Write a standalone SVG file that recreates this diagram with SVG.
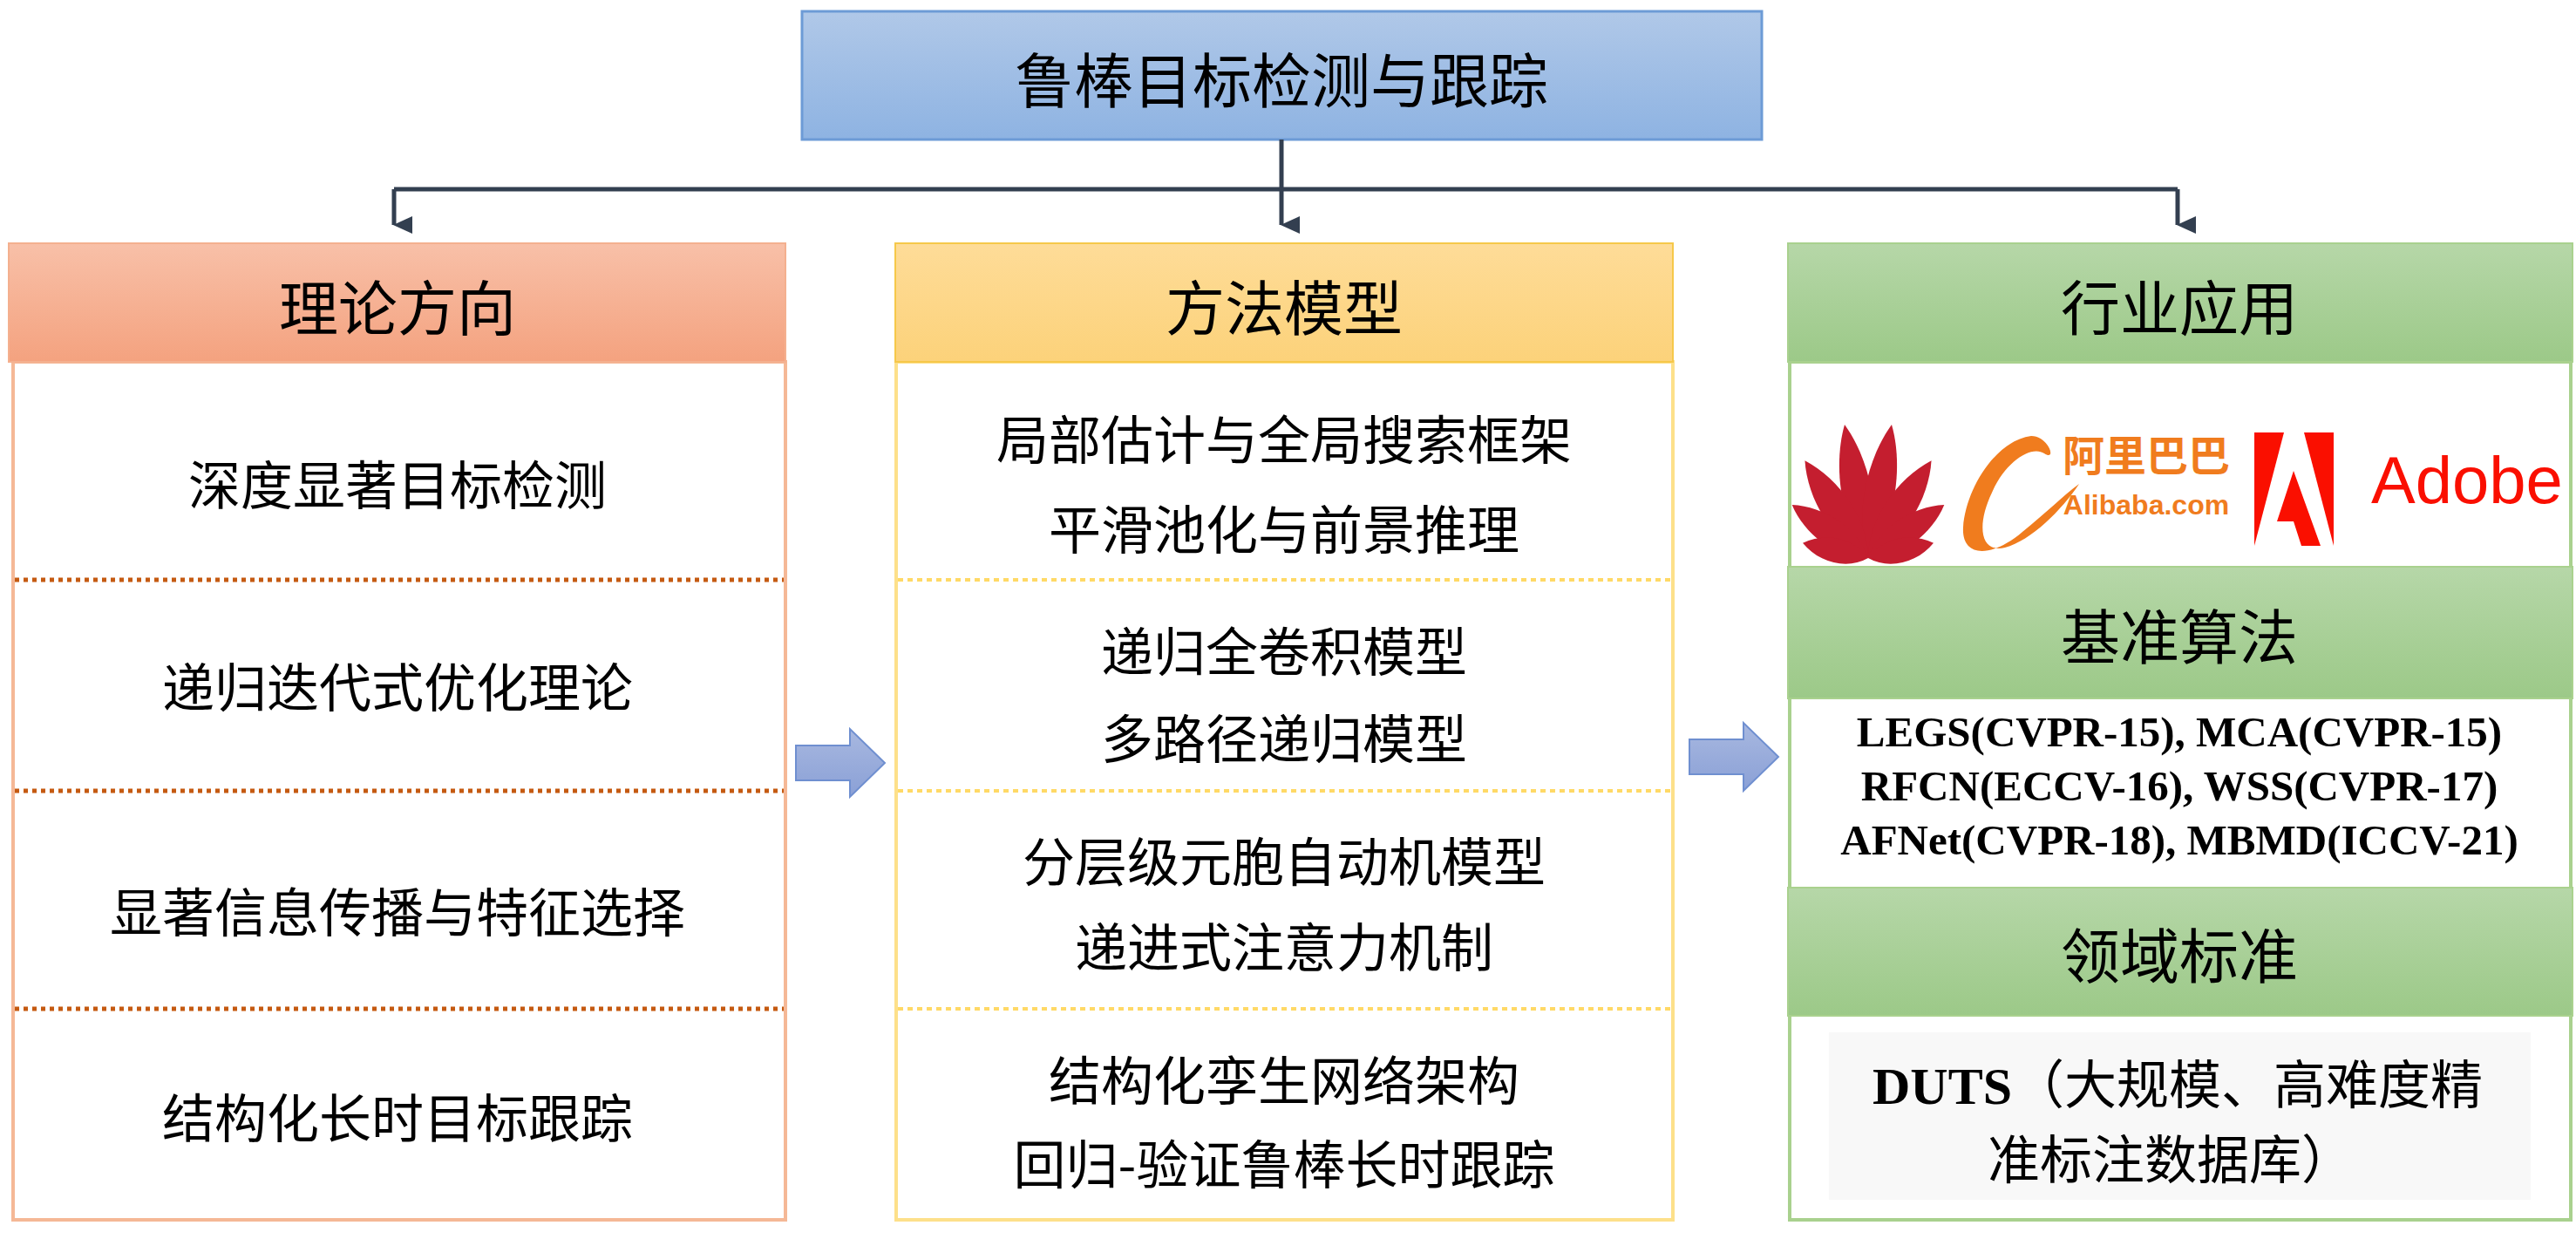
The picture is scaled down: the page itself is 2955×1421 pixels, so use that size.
<svg xmlns="http://www.w3.org/2000/svg" width="2955" height="1421" viewBox="0 0 2955 1421">
<defs>
<linearGradient id="gBlue" x1="0" y1="0" x2="0" y2="1"><stop offset="0" stop-color="#b0c8e8"/><stop offset="1" stop-color="#8eb3e2"/></linearGradient>
<linearGradient id="gRed" x1="0" y1="0" x2="0" y2="1"><stop offset="0" stop-color="#f8c0a8"/><stop offset="1" stop-color="#f4a27f"/></linearGradient>
<linearGradient id="gYel" x1="0" y1="0" x2="0" y2="1"><stop offset="0" stop-color="#fedc98"/><stop offset="1" stop-color="#fcd27a"/></linearGradient>
<linearGradient id="gGrn" x1="0" y1="0" x2="0" y2="1"><stop offset="0" stop-color="#b6d7a8"/><stop offset="1" stop-color="#9cc988"/></linearGradient>
<linearGradient id="gArr" x1="0" y1="0" x2="0" y2="1"><stop offset="0" stop-color="#a8b8e0"/><stop offset="1" stop-color="#8aa0d6"/></linearGradient>
<marker id="ah" markerWidth="20" markerHeight="22" refX="10" refY="21" orient="auto" markerUnits="userSpaceOnUse" viewBox="0 0 20 22"><path d="M0,0 L20,0 L10,22 Z" fill="#333f50"/></marker>
<path id="petal" d="M0,0 C-24,-40 -22,-105 0,-148 C22,-105 24,-40 0,0 Z"/>
</defs>
<style>
.cjk{font-family:"Noto Sans CJK SC","Liberation Sans",sans-serif;fill:#000;text-anchor:middle;dominant-baseline:central}
.hd{font-size:68px}
.it{font-size:60px}
.bs{font-family:"Liberation Serif","Noto Sans CJK SC",serif;font-weight:bold;font-size:49px;text-anchor:middle;dominant-baseline:central}
.conn{fill:none;stroke:#333f50;stroke-width:5}
</style>
<rect width="2955" height="1421" fill="#fff"/>
<g id="title">
<rect x="920" y="13" width="1101" height="147" fill="url(#gBlue)" stroke="#6d9bd6" stroke-width="3"/>
<text class="cjk hd" x="1470" y="88">鲁棒目标检测与跟踪</text>
</g>
<g id="connectors">
<path class="conn" d="M1470,160 V217"/>
<path class="conn" d="M452,217 H2498"/>
<path class="conn" d="M452,217 V258" marker-end="url(#ah)"/>
<path class="conn" d="M1470,217 V258" marker-end="url(#ah)"/>
<path class="conn" d="M2498,217 V258" marker-end="url(#ah)"/>
<path d="M913,855 H975 V836 L1015,875 L975,914 V895 H913 Z" fill="url(#gArr)" stroke="#6f8fd0" stroke-width="2"/>
<path d="M1938,848 H2000 V829 L2040,868 L2000,907 V888 H1938 Z" fill="url(#gArr)" stroke="#6f8fd0" stroke-width="2"/>
</g>
<g id="theory">
<rect x="15" y="415" width="886" height="984" fill="#fff" stroke="#f5b896" stroke-width="4"/>
<rect x="10" y="279" width="891" height="136" fill="url(#gRed)" stroke="#f4b08f" stroke-width="2"/>
<text class="cjk hd" x="456" y="349">理论方向</text>
<g stroke="#c55a11" stroke-width="5" stroke-dasharray="5,5">
<line x1="17" y1="665" x2="899" y2="665"/><line x1="17" y1="907" x2="899" y2="907"/><line x1="17" y1="1157" x2="899" y2="1157"/>
</g>
<text class="cjk it" x="456" y="552">深度显著目标检测</text>
<text class="cjk it" x="456" y="784">递归迭代式优化理论</text>
<text class="cjk it" x="456" y="1042">显著信息传播与特征选择</text>
<text class="cjk it" x="456" y="1278">结构化长时目标跟踪</text>
</g>
<g id="methods">
<rect x="1028" y="415" width="891" height="984" fill="#fff" stroke="#fde08a" stroke-width="4"/>
<rect x="1027" y="279" width="892" height="136" fill="url(#gYel)" stroke="#f6c84a" stroke-width="2"/>
<text class="cjk hd" x="1473" y="349">方法模型</text>
<g stroke="#ffd966" stroke-width="4" stroke-dasharray="6,5" fill="none">
<line x1="1030" y1="665" x2="1917" y2="665"/><line x1="1030" y1="907" x2="1917" y2="907"/><line x1="1030" y1="1157" x2="1917" y2="1157"/>
</g>
<text class="cjk it" x="1473" y="500">局部估计与全局搜索框架</text>
<text class="cjk it" x="1473" y="603">平滑池化与前景推理</text>
<text class="cjk it" x="1473" y="743">递归全卷积模型</text>
<text class="cjk it" x="1473" y="843">多路径递归模型</text>
<text class="cjk it" x="1473" y="984">分层级元胞自动机模型</text>
<text class="cjk it" x="1473" y="1082">递进式注意力机制</text>
<text class="cjk it" x="1473" y="1235">结构化孪生网络架构</text>
<text class="cjk it" x="1473" y="1331">回归-验证鲁棒长时跟踪</text>
</g>
<g id="industry">
<rect x="2053" y="415" width="896" height="984" fill="#fff" stroke="#a9d18e" stroke-width="4"/>
<rect x="2051" y="279" width="900" height="136" fill="url(#gGrn)" stroke="#a9d18e" stroke-width="2"/>
<text class="cjk hd" x="2500" y="349">行业应用</text>
<g id="huawei" fill="#c41e2f">
<use href="#petal" transform="translate(2143,640) rotate(-10) scale(1,1.05)"/>
<use href="#petal" transform="translate(2143,640) rotate(10) scale(1,1.05)"/>
<use href="#petal" transform="translate(2143,640) rotate(-33) scale(1,0.9)"/>
<use href="#petal" transform="translate(2143,640) rotate(33) scale(1,0.9)"/>
<use href="#petal" transform="translate(2143,640) rotate(-55) scale(0.9,0.72)"/>
<use href="#petal" transform="translate(2143,640) rotate(55) scale(0.9,0.72)"/>
<use href="#petal" transform="translate(2143,640) rotate(-77) scale(0.8,0.52)"/>
<use href="#petal" transform="translate(2143,640) rotate(77) scale(0.8,0.52)"/>
</g>
<g id="alibaba">
<path d="M2330,500 C2290,505 2255,560 2252,605 C2250,640 2285,640 2320,610 C2345,590 2365,570 2385,555 C2365,585 2330,620 2300,628 C2270,635 2268,600 2285,565 C2300,530 2330,510 2345,520 C2360,530 2350,500 2330,500 Z" fill="#f07c1e"/>
<text x="2462" y="540" font-family="Noto Sans CJK SC,sans-serif" font-size="48" fill="#f07c1e" text-anchor="middle" font-weight="bold">阿里巴巴</text>
<text x="2462" y="590" font-family="Liberation Sans,sans-serif" font-size="32" fill="#f07c1e" text-anchor="middle" font-weight="bold">Alibaba.com</text>
</g>
<g id="adobe" fill="#fa0f00">
<polygon points="2586,496 2620,496 2586,626"/>
<polygon points="2643,496 2677,496 2677,626"/>
<polygon points="2631,540 2662,626 2640,626 2631,598 2612,598"/>
<text x="2830" y="577" font-family="Liberation Sans,sans-serif" font-size="76" text-anchor="middle">Adobe</text>
</g>
<rect x="2051" y="650" width="900" height="151" fill="url(#gGrn)" stroke="#a9d18e" stroke-width="2"/>
<text class="cjk hd" x="2500" y="726">基准算法</text>
<text class="bs" x="2500" y="839">LEGS(CVPR-15), MCA(CVPR-15)</text>
<text class="bs" x="2500" y="901">RFCN(ECCV-16), WSS(CVPR-17)</text>
<text class="bs" x="2500" y="963">AFNet(CVPR-18), MBMD(ICCV-21)</text>
<rect x="2051" y="1018" width="900" height="147" fill="url(#gGrn)" stroke="#a9d18e" stroke-width="2"/>
<text class="cjk hd" x="2500" y="1092">领域标准</text>
<rect x="2098" y="1184" width="805" height="192" fill="#f8f8f8"/>
<text x="2498" y="1266" font-size="60" text-anchor="middle"><tspan font-family="Liberation Serif,serif" font-weight="bold">DUTS</tspan><tspan font-family="Noto Sans CJK SC,sans-serif">（大规模、高难度精</tspan></text>
<text class="cjk it" x="2490" y="1325">准标注数据库）</text>
</g>
</svg>
